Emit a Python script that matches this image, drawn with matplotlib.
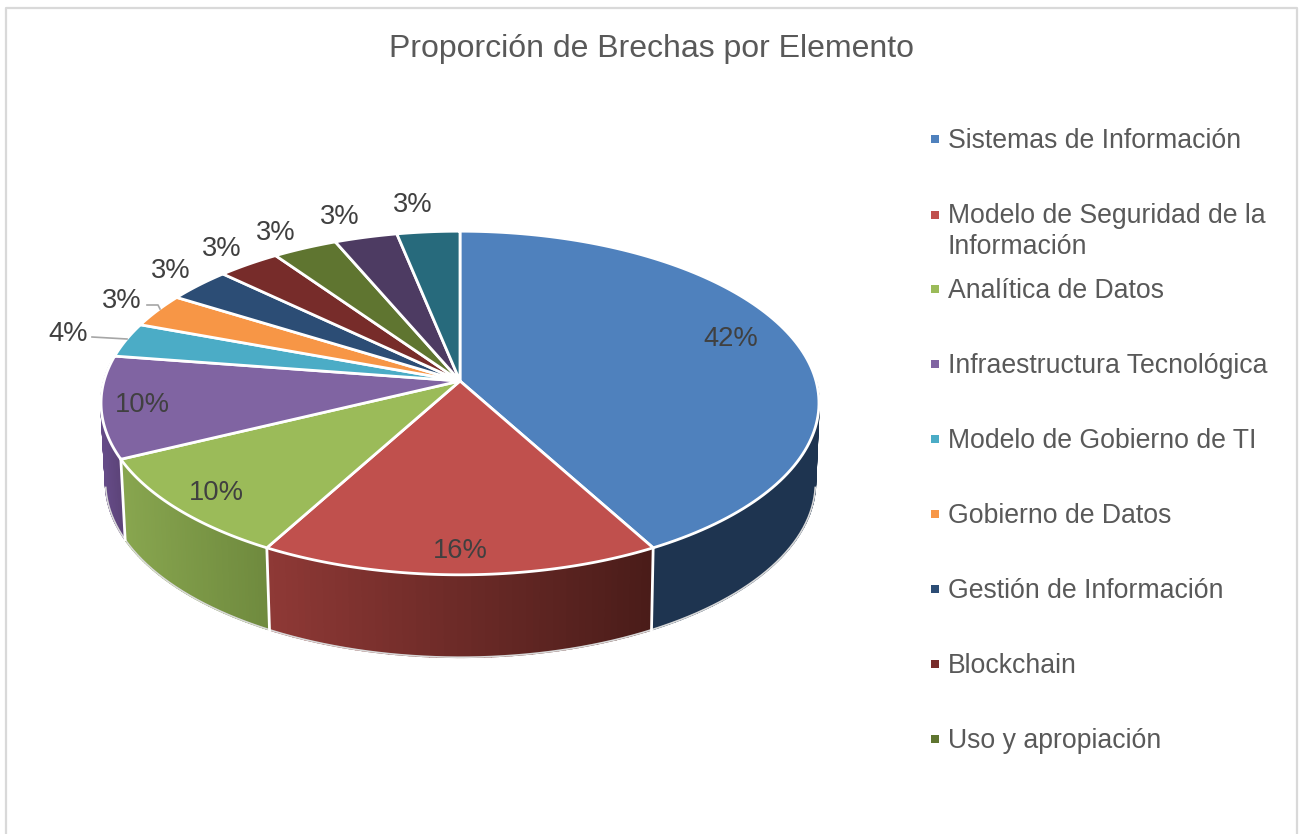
import numpy as np
import matplotlib
matplotlib.use("Agg")
import matplotlib.pyplot as plt
from matplotlib.collections import PolyCollection
from matplotlib.colors import to_rgb
from matplotlib.patches import Rectangle

plt.rcParams['font.family'] = ['Liberation Sans', 'DejaVu Sans']

# -------------------------
# Data
# -------------------------

title = "Proporción de Brechas por Elemento"

# the last two slices are cut off the legend in the original
categories = [
    "Sistemas de Información",
    "Modelo de Seguridad de la\nInformación",
    "Analítica de Datos",
    "Infraestructura Tecnológica",
    "Modelo de Gobierno de TI",
    "Gobierno de Datos",
    "Gestión de Información",
    "Blockchain",
    "Uso y apropiación",
]

values = [42, 16, 9.8, 9.6, 3.25, 3.2, 3.25, 3.2, 3.3, 3.2, 3.2]
labels = ["42%", "16%", "10%", "10%", "4%", "3%", "3%", "3%", "3%", "3%", "3%"]

colors = ["#4f81bd", "#c0504d", "#9bbb59", "#8064a2", "#4bacc6", "#f79646",
          "#2c4d75", "#772c2a", "#5f7530", "#4d3b62", "#276a7c"]

# side wall shading, left end and right end as seen on screen
wall_left = ["#1e3450", "#8f3936", "#88a64f", "#654b87", "#3a8397", "#b86f30",
             "#1e3450", "#4a1c19", "#3f4e20", "#33274a", "#1a4753"]
wall_right = ["#1e3450", "#4a1c19", "#6f8a3e", "#5c4378", "#3a8397", "#b86f30",
              "#1e3450", "#4a1c19", "#3f4e20", "#33274a", "#1a4753"]

# pixel position of each percent label
label_x = [731, 460, 216, 142, 68, 122, 171, 222, 276, 340, 413]
label_y = [339, 551, 493, 405, 334, 301, 271, 249, 233, 217, 205]

legend_y = [141, 231.5, 291, 366, 441, 516, 591, 666, 741]

# -------------------------
# Perspective of the pie
# -------------------------

cx, cy = 460, 381
A, B, p = 356, 169, 0.128
cx2, A2, B2, cy2 = 460.5, 352, 172, 460


def top_rim(t):
    u, v = np.sin(t), np.cos(t)
    return cx + A*u/(1 + p*v), cy - B*v/(1 + p*v)


def bottom_rim(t):
    u, v = np.sin(t), np.cos(t)
    return cx2 + A2*u/(1 + p*v), cy2 - B2*v/(1 + p*v)


# -------------------------
# Figure
# -------------------------

fig = plt.figure(figsize=(13.02, 8.34), dpi=100)
ax = fig.add_axes([0, 0, 1, 1])
ax.set_xlim(0, 1302)
ax.set_ylim(834, 0)
ax.axis("off")

# chart frame, bottom edge is cut in the original
ax.plot([6, 6, 1297, 1297], [834, 7.5, 7.5, 834], color="#d9d9d9", lw=1.6)

edges = 2*np.pi*np.cumsum([0] + values)/sum(values)
wall_from, wall_to = np.radians(90), np.radians(276)

# side walls
for i in range(len(values)):
    a0, a1 = max(edges[i], wall_from), min(edges[i+1], wall_to)
    if a1 <= a0:
        continue
    ts = np.linspace(a0, a1, 60)
    xt, yt = top_rim(ts)
    xb, yb = bottom_rim(ts)
    quads = []
    cols = []
    c0, c1 = np.array(to_rgb(wall_left[i])), np.array(to_rgb(wall_right[i]))
    for j in range(len(ts)-1):
        quads.append([(xt[j], yt[j]), (xt[j+1], yt[j+1]), (xb[j+1], yb[j+1]), (xb[j], yb[j])])
        f = (xt[j] - xt.min())/(xt.max() - xt.min())
        cols.append(c0 + (c1 - c0)*f)
    ax.add_collection(PolyCollection(quads, facecolors=cols, edgecolors=cols, linewidths=1.2, zorder=2))

# thin outline under the walls
ts = np.linspace(np.radians(99), np.radians(261), 200)
xb, yb = bottom_rim(ts)
ax.plot(xb, yb, color="#d9d9d9", lw=1.2, zorder=2.5)

# white seams between the walls
for e in edges:
    if wall_from < e < wall_to:
        xt, yt = top_rim(e)
        xb, yb = bottom_rim(e)
        ax.plot([xt, xb], [yt, yb], color="white", lw=2, zorder=3)

# top of the pie
for i in range(len(values)):
    ts = np.linspace(edges[i], edges[i+1], 120)
    xt, yt = top_rim(ts)
    ax.fill(np.r_[cx, xt], np.r_[cy, yt], facecolor=colors[i], edgecolor="white", lw=2, joinstyle="round", zorder=4)

# percent labels
for x, y, s in zip(label_x, label_y, labels):
    ax.text(x, y, s, fontsize=19.7, color="#404040", ha="center", va="center", zorder=6)

# leader lines
ax.plot([92, 127], [337, 339], color="#a6a6a6", lw=1.2, zorder=5)
ax.plot([147, 158, 160], [305, 305, 309], color="#a6a6a6", lw=1.2, zorder=5)

# title
ax.text(651.5, 49, title, fontsize=23, color="#595959", ha="center", va="center")

# legend
for i, name in enumerate(categories):
    two_lines = "\n" in name
    ax.add_patch(Rectangle((931, legend_y[i] - (17 if two_lines else 2) - 4), 8, 8, facecolor=colors[i], edgecolor="none"))
    ax.text(948, legend_y[i], name, fontsize=19.2, color="#595959", ha="left", va="center", linespacing=1.27)

fig.savefig("out.png", dpi=100)
